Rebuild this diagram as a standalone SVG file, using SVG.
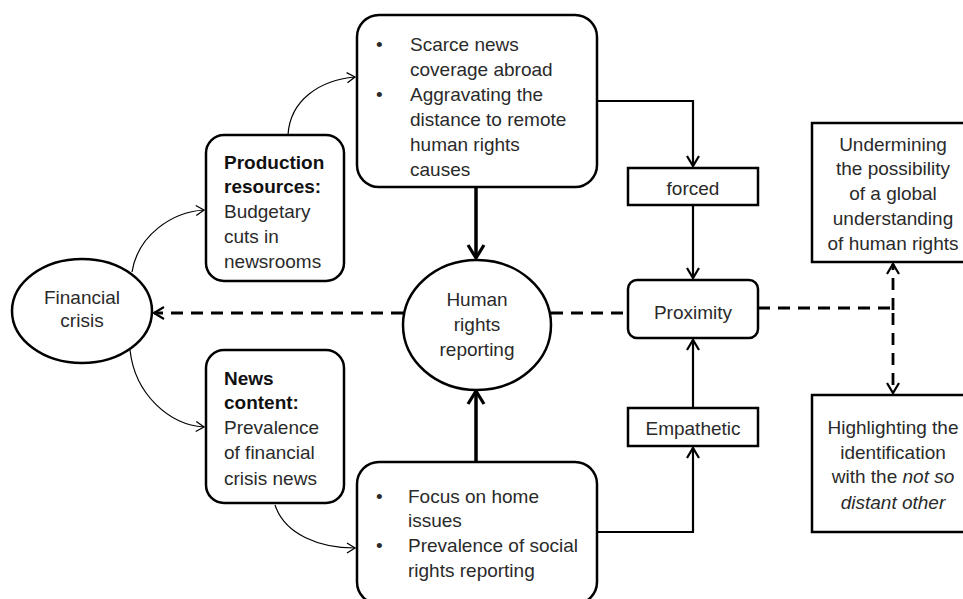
<svg xmlns="http://www.w3.org/2000/svg" width="963" height="599" viewBox="0 0 963 599">
<defs>
<style>
.box{fill:#fff;stroke:#000;stroke-width:2.5}
.t{font-family:"Liberation Sans",Arial,sans-serif;font-size:19px;fill:#2a2a2a}
.b{font-weight:bold;fill:#111}
.c{text-anchor:middle}
.i{font-style:italic}
.thin{fill:none;stroke:#000;stroke-width:1.2}
.mid{fill:none;stroke:#000;stroke-width:2.2}
.thick{fill:none;stroke:#000;stroke-width:3.5}
.dash{fill:none;stroke:#000;stroke-width:2.8;stroke-dasharray:12 8}
</style>
<marker id="a1" markerWidth="14" markerHeight="14" refX="11" refY="7" orient="auto" markerUnits="userSpaceOnUse">
<path d="M3,2 L11,7 L3,12" fill="none" stroke="#000" stroke-width="1.3"/>
</marker>
<marker id="a2" markerWidth="16" markerHeight="16" refX="13" refY="8" orient="auto" markerUnits="userSpaceOnUse">
<path d="M3,2 L13,8 L3,14" fill="none" stroke="#000" stroke-width="2.2"/>
</marker>
<marker id="a3" markerWidth="20" markerHeight="20" refX="16" refY="10" orient="auto" markerUnits="userSpaceOnUse">
<path d="M3,2 L16,10 L3,18" fill="none" stroke="#000" stroke-width="3.2"/>
</marker>
</defs>
<rect width="963" height="599" fill="#fff"/>

<g id="connectors">
<path class="thin" d="M132,272 C138,235 172,212 204,210" marker-end="url(#a1)"/>
<path class="thin" d="M288,135 C290,100 320,80 355,77" marker-end="url(#a1)"/>
<path class="thin" d="M130,350 C135,395 170,425 204,427" marker-end="url(#a1)"/>
<path class="thin" d="M275,505 C285,535 320,548 355,548" marker-end="url(#a1)"/>
<path class="thick" d="M476,187 L476,258" marker-end="url(#a3)"/>
<path class="thick" d="M476,462 L476,391" marker-end="url(#a3)"/>
<path class="mid" d="M597,101 L693,101 L693,166" marker-end="url(#a2)"/>
<path class="mid" d="M693,205 L693,278" marker-end="url(#a2)"/>
<path class="mid" d="M597,532 L693,532 L693,448" marker-end="url(#a2)"/>
<path class="mid" d="M693,408 L693,340" marker-end="url(#a2)"/>
<path class="dash" d="M403,313 L154,313" marker-end="url(#a2)"/>
<path class="dash" d="M551,313 L628,313"/>
<path class="dash" d="M758,308 L893,308 L893,393" marker-end="url(#a2)"/>
<path class="dash" d="M893,310 L893,264" marker-end="url(#a2)"/>
</g>

<g id="financial-crisis">
<ellipse class="box" cx="82" cy="311" rx="70" ry="52"/>
<text class="t c" x="82" y="304">Financial</text>
<text class="t c" x="82" y="327">crisis</text>
</g>

<g id="production-resources">
<rect class="box" x="206" y="135" width="138" height="146" rx="18"/>
<text class="t b" x="224" y="169">Production</text>
<text class="t b" x="224" y="193">resources:</text>
<text class="t" x="224" y="218">Budgetary</text>
<text class="t" x="224" y="243">cuts in</text>
<text class="t" x="224" y="268">newsrooms</text>
</g>

<g id="news-content">
<rect class="box" x="206" y="350" width="138" height="153" rx="18"/>
<text class="t b" x="224" y="385">News</text>
<text class="t b" x="224" y="409">content:</text>
<text class="t" x="224" y="434">Prevalence</text>
<text class="t" x="224" y="459">of financial</text>
<text class="t" x="224" y="485">crisis news</text>
</g>

<g id="scarce-coverage">
<rect class="box" x="357" y="15" width="240" height="172" rx="22"/>
<text class="t" x="376" y="51">•</text>
<text class="t" x="410" y="51">Scarce news</text>
<text class="t" x="410" y="76">coverage abroad</text>
<text class="t" x="376" y="101">•</text>
<text class="t" x="410" y="101">Aggravating the</text>
<text class="t" x="410" y="126">distance to remote</text>
<text class="t" x="410" y="151">human rights</text>
<text class="t" x="410" y="176">causes</text>
</g>

<g id="home-issues">
<rect class="box" x="357" y="462" width="240" height="142" rx="22"/>
<text class="t" x="376" y="503">•</text>
<text class="t" x="408" y="503">Focus on home</text>
<text class="t" x="408" y="527">issues</text>
<text class="t" x="376" y="552">•</text>
<text class="t" x="408" y="552">Prevalence of social</text>
<text class="t" x="408" y="577">rights reporting</text>
</g>

<g id="human-rights-reporting">
<ellipse class="box" cx="477" cy="325" rx="74" ry="65"/>
<text class="t c" x="477" y="306">Human</text>
<text class="t c" x="477" y="331">rights</text>
<text class="t c" x="477" y="356">reporting</text>
</g>

<g id="forced">
<rect class="box" x="628" y="168" width="130" height="37"/>
<text class="t c" x="693" y="195">forced</text>
</g>

<g id="proximity">
<rect class="box" x="628" y="280" width="130" height="58" rx="9"/>
<text class="t c" x="693" y="319">Proximity</text>
</g>

<g id="empathetic">
<rect class="box" x="628" y="408" width="130" height="38"/>
<text class="t c" x="693" y="435">Empathetic</text>
</g>

<g id="undermining">
<rect class="box" x="812" y="123" width="165" height="139"/>
<text class="t c" x="893" y="151">Undermining</text>
<text class="t c" x="893" y="175">the possibility</text>
<text class="t c" x="893" y="200">of a global</text>
<text class="t c" x="893" y="225">understanding</text>
<text class="t c" x="893" y="250">of human rights</text>
</g>

<g id="highlighting">
<rect class="box" x="812" y="395" width="165" height="137"/>
<text class="t c" x="893" y="434">Highlighting the</text>
<text class="t c" x="893" y="459">identification</text>
<text class="t c" x="893" y="483">with the <tspan class="i">not so</tspan></text>
<text class="t c i" x="893" y="509">distant other</text>
</g>
</svg>
